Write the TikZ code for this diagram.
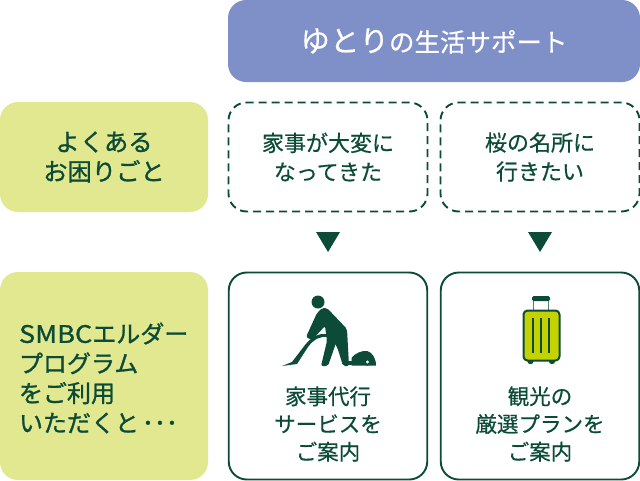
\documentclass[tikz,border=0pt]{standalone}
\usepackage{fontspec}
\setmainfont[RawFeature={embolden=0.5}]{Noto Sans CJK JP}
\newfontfamily\heavyf[RawFeature={embolden=1.1}]{Noto Sans CJK JP}
\definecolor{dg}{HTML}{0B4B37}
\definecolor{lime}{HTML}{E1E88F}
\definecolor{peri}{HTML}{7F90C8}
\definecolor{bag}{HTML}{C4D300}
\tikzset{
 base/.style={rounded corners=18pt,minimum width=200pt,align=center,text=dg,font=\fontsize{22}{29}\selectfont,inner sep=0pt},
 limebox/.style={base,fill=lime,minimum width=208pt},
 dashbox/.style={base,draw=dg,line width=1.9pt,dash pattern=on 8pt off 5pt,minimum height=109pt,minimum width=199pt},
 solidbox/.style={base,draw=dg,line width=1.9pt,minimum height=207pt,minimum width=198.5pt},
 tri/.style={fill=dg,draw=none},
 ink/.style={fill=dg,draw=none},
 capt/.style={align=center,text=dg,font=\fontsize{21.5}{27.7}\selectfont,inner sep=0pt}
}
\begin{document}
\begin{tikzpicture}[x=1pt,y=-1pt]
\useasboundingbox (0,0) rectangle (640,480);
\node[base,fill=peri,minimum width=412pt,minimum height=82pt,text=white] (head) at (434,41) {\fontsize{29.5}{30}\selectfont ゆとり\fontsize{25.5}{30}\selectfont の生活サポート};
\node[limebox,minimum height=110pt,font=\heavyf\fontsize{24.3}{29.5}\selectfont] (q) at (104,157) {よくある\\お困りごと};
\node[limebox,minimum height=208pt] (a) at (104,376) {};
\node[anchor=center,align=left,text=dg,font=\heavyf\fontsize{24}{29.7}\selectfont,inner sep=0pt,text width=180pt] (atext) at (109,378) {\scalebox{1.13}[1]{SMBC}エルダー\\プログラム\\をご利用\\いただくと\hspace{3pt}･･･};
\node[dashbox] (d1) at (328,157) {\raisebox{-1.5pt}{家事が大変に}\\\raisebox{-1.5pt}{なってきた}};
\node[dashbox] (d2) at (540,157) {\raisebox{-1.5pt}{桜の名所に}\\\raisebox{-1.5pt}{行きたい}};
\node[solidbox] (s1) at (328,376) {};
\node[solidbox] (s2) at (540,376) {};
\node[capt] (t1) at (328,424) {家事代行\\サービスを\\ご案内};
\node[capt] (t2) at (540,424) {観光の\\厳選プランを\\ご案内};
\fill[tri] (316,232) -- (340,232) -- (328,252) -- cycle;
\fill[tri] (528,232) -- (552,232) -- (540,252) -- cycle;
% person
\fill[ink] (318,302) circle (6.5);
\fill[ink,rounded corners=2pt] (317,313) -- (322,308) -- (327,308) -- (347,329) -- (349,366) -- (343,366) -- (336,343) -- (328,366) -- (321,366) -- (327,341) -- (325,326) -- (312,340) -- (306,337) -- cycle;
\draw[white,line width=1pt] (305,347) .. controls (312,338) and (320,335) .. (327,336);
\fill[ink] (282,366) -- (292,362) -- (305,345) .. controls (312,336) and (320,333) .. (327,334) -- (328,337) .. controls (320,336) and (314,339) .. (308,347) -- (297,364) -- cycle;
\draw[dg,line width=1.3pt] (334,340) -- (344,360);
\fill[ink] (351.5,365.5) -- (351.5,358) .. controls (355,353) and (362,350.5) .. (367,351) .. controls (372,352) and (376,358) .. (376,365.5) -- cycle;
\fill[ink] (345,361) rectangle (353,364.5);
\fill[ink] (367.5,362) circle (3.6);
\fill[white] (367.5,362) circle (1.6);
% suitcase
\draw[dg!70!white,line width=1.4pt] (533.5,310) -- (533.5,298) (548.5,310) -- (548.5,298);
\fill[ink,rounded corners=1.5pt] (532,296) rectangle (550,301);
\fill[ink] (530.5,361) circle (3.2);
\fill[ink] (552,361) circle (3.2);
\draw[dg,line width=2pt,fill=bag,rounded corners=4pt] (523.5,310.5) rectangle (559.5,360.5);
\draw[dg,line width=1.6pt] (533,318) -- (533,353) (541,318) -- (541,353) (549,318) -- (549,353);
\end{tikzpicture}
\end{document}
